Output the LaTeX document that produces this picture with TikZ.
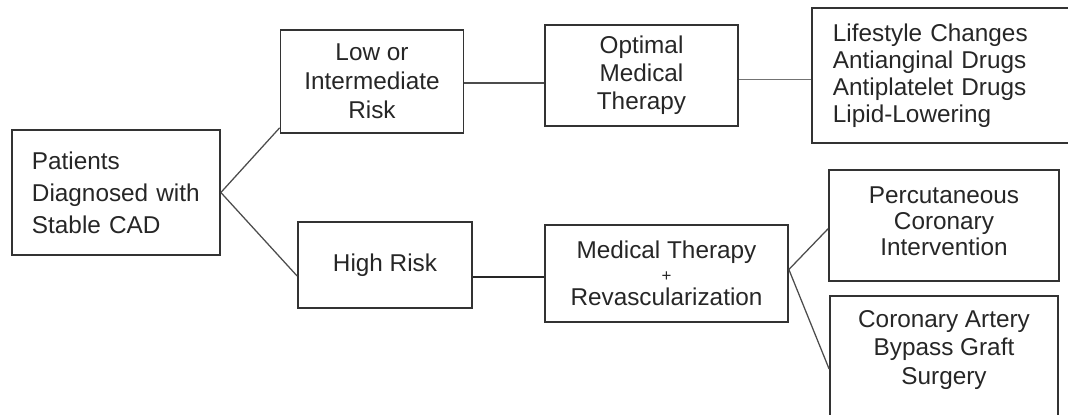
\documentclass[tikz,border=0pt]{standalone}
\usepackage{fontspec}
\setmainfont{Liberation Sans}
\usetikzlibrary{calc}
\begin{document}
\begin{tikzpicture}[x=0.025cm, y=-0.025cm]
    \tikzstyle{box}=[rectangle, draw=black!80, line width=1.2pt, text=black!85, align=center,
                     font=\fontsize{17.3}{20}\selectfont, inner sep=0pt]
    \tikzstyle{link}=[draw=black!70, line width=0.9pt]
    \useasboundingbox (0,0) rectangle (1068,415);
    \clip (0,0) rectangle (1068,415);

    \node[box, minimum width=5.2cm, minimum height=3.125cm, text width=4.2cm, align=left,
          font=\fontsize{17.3}{22.8}\selectfont] (pat) at (116,192.5)
          {Patients\\Diagnosed with\\Stable CAD};
    \node[box, minimum width=4.575cm, minimum height=2.575cm,
          font=\fontsize{17.3}{20.6}\selectfont] (low) at (372,81.5)
          {Low or\\Intermediate\\Risk};
    \node[box, minimum width=4.825cm, minimum height=2.525cm] (omt) at (641.5,75.5)
          {Optimal\\Medical\\Therapy};
    \node[box, minimum width=7.2cm, minimum height=3.375cm, text width=6.15cm, align=left,
          font=\fontsize{17.3}{19.2}\selectfont] (life) at (956,75.5)
          {Lifestyle Changes\\Antianginal Drugs\\Antiplatelet Drugs\\Lipid-Lowering};
    \node[box, minimum width=4.35cm, minimum height=2.15cm] (high) at (385,265) {High Risk};
    \node[box, minimum width=6.075cm, minimum height=2.425cm] (mtr) at (666.5,273.5)
          {Medical Therapy\\[-4pt]{\fontsize{12}{12}\selectfont +}\\[-3pt]Revascularization};
    \node[box, minimum width=5.75cm, minimum height=2.775cm] (pci) at (944,225.5) {};
    \node[box, draw=none, font=\fontsize{17.3}{18.5}\selectfont] (pcitxt) at (944,221)
          {Percutaneous\\Coronary\\Intervention};
    \node[box, minimum width=5.7cm, minimum height=3.85cm] (cabg) at (944,373) {};
    \node[box, draw=none] (cabgtxt) at (944,350) {Coronary Artery\\Bypass Graft\\Surgery};

    \draw[link] (pat.east) -- ([yshift=0.15cm]low.south west);
    \draw[link] (pat.east) -- ([yshift=-0.275cm]high.west);
    \draw[link] ([yshift=-0.04cm]low.east) -- ([yshift=-0.04cm]low.east -| omt.west);
    \draw[link, draw=black!55] ([yshift=-0.1cm]omt.east) -- ([yshift=-0.1cm]omt.east -| life.west);
    \draw[link, draw=black!85, line width=1.4pt] ([yshift=-0.29cm]high.east) -- ([yshift=-0.29cm]high.east -| mtr.west);
    \draw[link] ([yshift=0.1cm]mtr.east) -- ([yshift=-0.08cm]pci.west);
    \draw[link] ([yshift=0.1cm]mtr.east) -- ([yshift=0.1cm]cabg.west);
\end{tikzpicture}
\end{document}
